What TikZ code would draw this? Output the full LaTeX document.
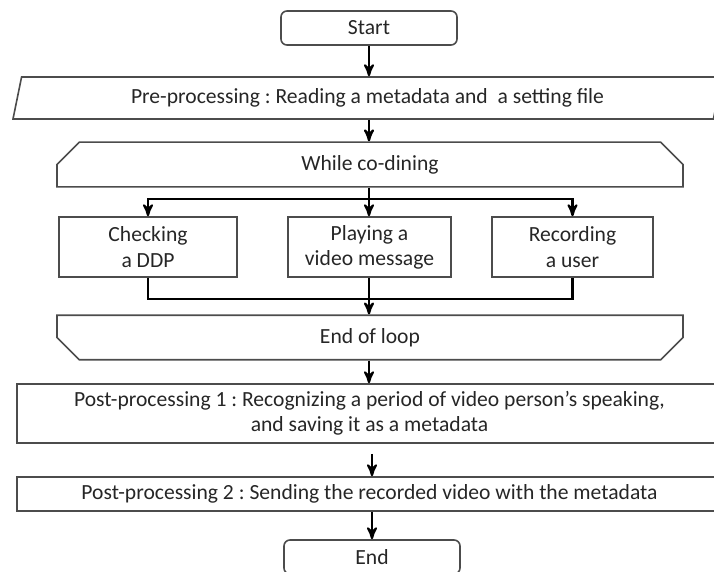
\documentclass[tikz,border=0pt]{standalone}
\usepackage{fontspec}
\setmainfont{Carlito}
\frenchspacing
\usetikzlibrary{arrows,shapes}

\begin{document}
\begin{tikzpicture}[x=0.5pt, y=-0.5pt, >=stealth', font=\fontsize{10.8}{12.6}\selectfont, text=black!85]
 \tikzset{
terminal/.style = {rectangle, rounded corners=3pt, draw=black!70, line width=0.8pt, minimum width=88pt, minimum height=17pt},
io/.style = {trapezium, trapezium left angle=75, trapezium right angle=105, trapezium stretches body, draw=black!70, line width=0.8pt, minimum width=354.5pt, minimum height=21pt},
loop limit/.style = {chamfered rectangle, chamfered rectangle xsep=9pt, draw=black!70, line width=0.8pt, minimum width=313pt},
process/.style = {rectangle, draw=black!70, line width=0.8pt, align=center, minimum height=30pt},
wide process/.style = {rectangle, draw=black!70, line width=0.8pt, align=center, minimum width=352.5pt},
flow/.style = {->, line width=1.1pt}}

    \useasboundingbox (0,0) rectangle (714,572);

    \node [terminal] (start) at (369,28) {Start};
    \node [io] (pre) at (367.5,98) {Pre-processing : Reading a metadata and \ a setting file};
    \node [loop limit, chamfered rectangle corners={north west,north east}, minimum height=18.5pt] (while) at (370,164.5) {While co-dining};

    \node [process, minimum width=89pt] (check) at (148,247) {Checking\\a DDP};
    \node [process, minimum width=81.5pt] (play) at (369.5,247) {Playing a\\video message};
    \node [process, minimum width=80.5pt] (rec) at (572.5,247) {Recording\\a user};

    \node [loop limit, chamfered rectangle corners={south west,south east}, chamfered rectangle xsep=8pt, minimum height=15.5pt] (endloop) at (370,337.5) {End of loop};
    \node [wide process, minimum height=29.5pt] (post1) at (369.5,413.5) {Post-processing 1 : Recognizing a period of video person’s speaking,\\and saving it as a metadata};
    \node [wide process, minimum height=17pt] (post2) at (369.5,494) {Post-processing 2 : Sending the recorded video with the metadata};
    \node [terminal] (stop) at (372,557) {End};

    \coordinate (split) at (369,199);
    \coordinate (merge) at (369,299);

    \draw [flow] (start) -- (pre.north -| start);
    \draw [flow] (pre.south -| start) -- (while.north -| start);
    \draw [line width=1.1pt] (while.south -| split) -- (split);
    \draw [flow] (split) -| (check.north);
    \draw [flow] (split) -- (play.north -| split);
    \draw [flow] (split) -| (rec.north);
    \draw [line width=1.1pt] (check.south) |- (merge) -| (rec.south);
    \draw [flow] (play.south -| merge) -- (endloop.north -| merge);
    \draw [flow] (endloop.south -| merge) -- (post1.north -| merge);
    \draw [flow, shorten <=5pt] (post1.south -| stop) -- (post2.north -| stop);
    \draw [flow] (post2.south -| stop) -- (stop);

  \end{tikzpicture}
\end{document}
